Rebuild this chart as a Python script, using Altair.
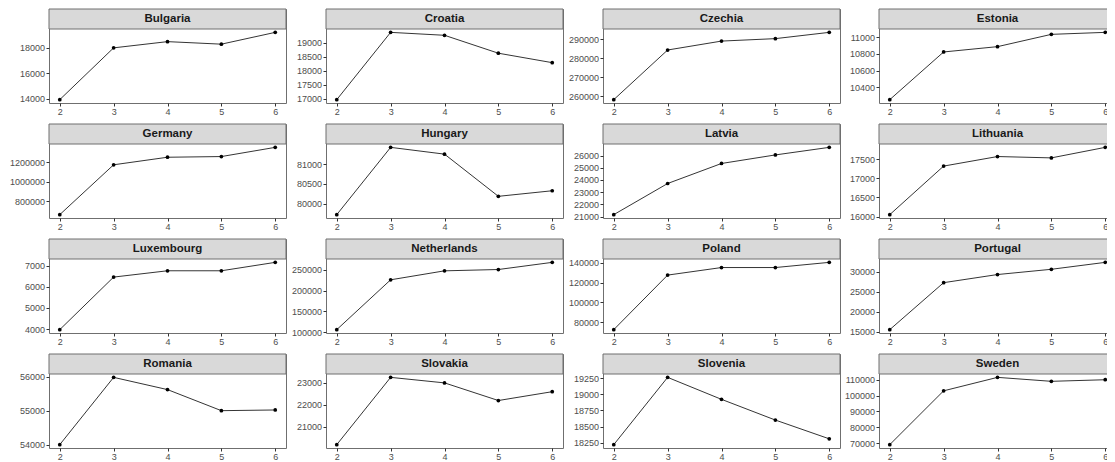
import altair as alt
import pandas as pd

periods = [2, 3, 4, 5, 6]

countries = ["Bulgaria", "Croatia", "Czechia", "Estonia",
             "Germany", "Hungary", "Latvia", "Lithuania",
             "Luxembourg", "Netherlands", "Poland", "Portugal",
             "Romania", "Slovakia", "Slovenia", "Sweden"]

bulgaria = [13920, 18000, 18490, 18290, 19220]
croatia = [16960, 19380, 19275, 18630, 18290]
czechia = [258250, 284400, 289100, 290400, 293700]
estonia = [10250, 10824, 10888, 11036, 11060]
germany = [661000, 1176000, 1254000, 1261000, 1356000]
hungary = [79730, 81420, 81250, 80190, 80330]
latvia = [21160, 23710, 25350, 26050, 26670]
lithuania = [16050, 17320, 17570, 17535, 17810]
luxembourg = [3970, 6470, 6770, 6770, 7170]
netherlands = [106000, 226000, 247600, 250800, 268000]
poland = [72700, 127500, 135100, 135100, 140300]
portugal = [15500, 27300, 29340, 30660, 32400]
romania = [54000, 55980, 55620, 55000, 55020]
slovakia = [20200, 23250, 23000, 22200, 22600]
slovenia = [18220, 19260, 18920, 18600, 18310]
sweden = [69000, 103000, 111500, 109000, 110000]

series = [bulgaria, croatia, czechia, estonia,
          germany, hungary, latvia, lithuania,
          luxembourg, netherlands, poland, portugal,
          romania, slovakia, slovenia, sweden]

ticks_bulgaria = [14000, 16000, 18000]
ticks_croatia = [17000, 17500, 18000, 18500, 19000]
ticks_czechia = [260000, 270000, 280000, 290000]
ticks_estonia = [10400, 10600, 10800, 11000]
ticks_germany = [800000, 1000000, 1200000]
ticks_hungary = [80000, 80500, 81000]
ticks_latvia = [21000, 22000, 23000, 24000, 25000, 26000]
ticks_lithuania = [16000, 16500, 17000, 17500]
ticks_luxembourg = [4000, 5000, 6000, 7000]
ticks_netherlands = [100000, 150000, 200000, 250000]
ticks_poland = [80000, 100000, 120000, 140000]
ticks_portugal = [15000, 20000, 25000, 30000]
ticks_romania = [54000, 55000, 56000]
ticks_slovakia = [20000, 21000, 22000, 23000]
ticks_slovenia = [18250, 18500, 18750, 19000, 19250]
ticks_sweden = [70000, 80000, 90000, 100000, 110000]

tick_sets = [ticks_bulgaria, ticks_croatia, ticks_czechia, ticks_estonia,
             ticks_germany, ticks_hungary, ticks_latvia, ticks_lithuania,
             ticks_luxembourg, ticks_netherlands, ticks_poland, ticks_portugal,
             ticks_romania, ticks_slovakia, ticks_slovenia, ticks_sweden]

W, H, STRIP = 237, 94, 20
BORDER = "#6f6f6f"
FONT = "Liberation Sans"


def panel(name, vals, ticks, extent):
    df = pd.DataFrame({"period": periods, "value": vals})
    lo, hi = min(vals), max(vals)
    pad = 0.05 * (hi - lo)
    x = alt.X("period:Q",
              scale=alt.Scale(domain=[1.8, 6.2], nice=False, zero=False),
              axis=alt.Axis(values=periods, format="d", title=None))
    y = alt.Y("value:Q",
              scale=alt.Scale(domain=[lo - pad, hi + pad], range=[H, STRIP],
                              nice=False, zero=False),
              axis=alt.Axis(values=ticks, format="d", title=None,
                            minExtent=extent, maxExtent=extent))
    base = alt.Chart(df).encode(x=x, y=y)
    line = base.mark_line(color="black", strokeWidth=0.8)
    pts = base.mark_circle(color="black", size=14, opacity=1)
    sdf = pd.DataFrame({"country": [name]})
    strip = alt.Chart(sdf).mark_rect(fill="#D9D9D9", stroke=BORDER, strokeWidth=1).encode(
        x=alt.value(0), x2=alt.value(W), y=alt.value(0), y2=alt.value(STRIP))
    label = alt.Chart(sdf).mark_text(fontWeight="bold", fontSize=11.5, color="#1a1a1a",
                                     font=FONT, baseline="middle", align="center").encode(
        x=alt.value(W / 2), y=alt.value(STRIP / 2), text="country:N")
    return alt.layer(line, pts, strip, label).properties(width=W, height=H)


panels = [panel(n, v, t, 32 if i % 4 == 3 else 36)
          for i, (n, v, t) in enumerate(zip(countries, series, tick_sets))]

chart = alt.concat(*panels, columns=4, spacing={"row": 4, "column": 2}).properties(
    autosize=alt.AutoSizeParams(type="none"),
    padding={"left": 41, "top": 1, "right": 1058, "bottom": 453}
).configure_view(
    stroke=BORDER, strokeWidth=1
).configure_axis(
    grid=False, domain=False, labelFont=FONT, labelFontSize=9,
    labelColor="#4D4D4D", tickColor="#333333", tickSize=3, labelPadding=1.5
).configure_axisX(
    minExtent=15, maxExtent=15
)

chart.save("out.html", embed_options={"renderer": "svg", "actions": False})
